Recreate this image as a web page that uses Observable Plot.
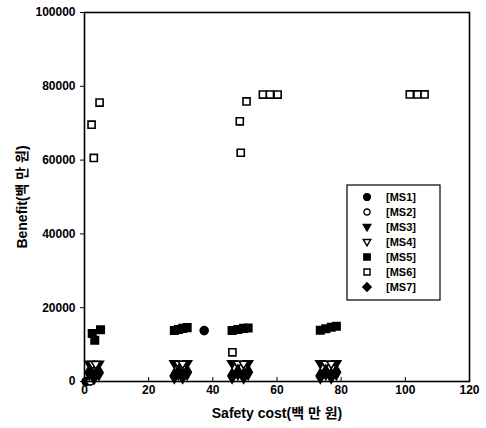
<!DOCTYPE html>
<html><head><meta charset="utf-8">
<script src="https://cdn.jsdelivr.net/npm/d3@7"></script>
<script src="https://cdn.jsdelivr.net/npm/@observablehq/plot@0.6"></script>
<style>body{margin:0;background:#fff}</style>
</head><body><div id="chart"></div>
<script>
const seriesNames = ["[MS1]","[MS2]","[MS3]","[MS4]","[MS5]","[MS6]","[MS7]"];
const xTicks = [0,20,40,60,80,100,120];
const yTicks = [0,20000,40000,60000,80000,100000];

const ms1X = [0.5, 37.3];
const ms1Y = [0, 13800];
const ms2X = [1.8];
const ms2Y = [0];
const ms3X = [1.5, 4.5, 28, 32, 46, 51, 73.5, 78.5];
const ms3Y = [4700, 4700, 4800, 4800, 4800, 4800, 4800, 4800];
const ms4X = [2.5, 3.5, 29.3, 30.6, 47.8, 49.6, 75.2, 76.9];
const ms4Y = [4600, 4600, 4700, 4700, 4700, 4700, 4700, 4700];
const ms5X = [2.4, 3.2, 5.0, 28, 29.3, 30.6, 32, 46, 47.8, 49.6, 51, 73.5, 75.2, 76.9, 78.5];
const ms5Y = [13000, 11200, 14000, 13800, 14100, 14400, 14600, 13800, 14100, 14400, 14500, 13900, 14300, 14700, 15000];
const ms6X = [2.2, 2.9, 4.7, 46.1, 48.4, 48.7, 50.5, 55.6, 57.8, 60.2, 101.4, 103.8, 106.0];
const ms6Y = [69600, 60600, 75600, 7900, 70500, 62000, 75900, 77750, 77750, 77750, 77800, 77800, 77800];
const ms7X = [1.5, 3, 4.5, 28, 29.3, 30.6, 32, 46, 47.8, 49.6, 51, 73.5, 75.2, 76.9, 78.5];
const ms7Y = [2400, 1300, 2400, 1500, 2500, 1500, 2500, 1500, 2500, 1500, 2500, 1500, 2500, 1500, 2500];

const triDown = {
  draw(ctx, size) {
    const h = Math.sqrt(size);
    ctx.moveTo(-h * 0.6, -h * 0.4);
    ctx.lineTo(h * 0.6, -h * 0.4);
    ctx.lineTo(0, h * 0.6);
    ctx.closePath();
  }
};

const styles = [
  {symbol: "circle", fill: "black", r: 4},
  {symbol: "circle", fill: "white", r: 3.6},
  {symbol: triDown, fill: "black", r: 4.2},
  {symbol: triDown, fill: "white", r: 4.2},
  {symbol: "square", fill: "black", r: 4.2},
  {symbol: "square", fill: "white", r: 4},
  {symbol: "diamond", fill: "black", r: 4.4}
];
const xs = [ms1X, ms2X, ms3X, ms4X, ms5X, ms6X, ms7X];
const ys = [ms1Y, ms2Y, ms3Y, ms4Y, ms5Y, ms6Y, ms7Y];
const tables = xs.map((arr, i) => arr.map((x, j) => ({x, y: ys[i][j], s: seriesNames[i]})));

const font = "'Liberation Sans','Noto Sans CJK KR',sans-serif";

const order = [5, 4, 0, 1, 2, 3, 6];
const plot = Plot.plot({
  width: 486, height: 428,
  marginLeft: 84, marginRight: 17, marginTop: 12, marginBottom: 47,
  style: {fontFamily: font, fontWeight: "bold", fontSize: "12px", color: "black", background: "white"},
  x: {domain: [0, 120], ticks: xTicks, label: "Safety cost(백 만 원)"},
  y: {domain: [0, 100000], ticks: yTicks, label: "Benefit(백 만 원)"},
  marks: [
    Plot.axisX({ticks: xTicks, tickSize: -4, tickPadding: 8, tickFormat: d => String(d), label: "Safety cost(백 만 원)", labelAnchor: "center", labelArrow: "none", labelOffset: 36, fontSize: 12}),
    Plot.axisY({ticks: yTicks, tickSize: 4, tickPadding: 5, tickFormat: d => String(d), label: "Benefit(백 만 원)", labelAnchor: "center", labelArrow: "none", labelOffset: 67, fontSize: 12}),
    ...order.map(i => Plot.dot(tables[i], {x: "x", y: "y", symbol: styles[i].symbol, r: styles[i].r, fill: styles[i].fill, stroke: "black", strokeWidth: 1.6})),
    Plot.frame({stroke: "black", strokeWidth: 1.6})
  ]
});
document.getElementById("chart").appendChild(plot);

const svg = d3.select(plot);
svg.selectAll("[aria-label='x-axis label'] text, [aria-label='y-axis label'] text").style("font-size", "14px");

// legend
const lg = svg.append("g").attr("font-family", font).attr("font-weight", "bold").attr("font-size", "11px").attr("text-anchor", "start");
lg.append("rect").attr("x", 347).attr("y", 185).attr("width", 93).attr("height", 115)
  .attr("fill", "white").attr("stroke", "black").attr("stroke-width", 1.2);
const symMap = {circle: d3.symbolCircle, square: d3.symbolSquare, diamond: d3.symbolDiamond2};
seriesNames.forEach((name, i) => {
  const yy = 197 + i * 15;
  const st = styles[i];
  const type = typeof st.symbol === "string" ? symMap[st.symbol] : st.symbol;
  const r = st.r * 0.85;
  lg.append("path").attr("d", d3.symbol(type, r * r * Math.PI)())
    .attr("transform", `translate(367,${yy})`)
    .attr("fill", st.fill).attr("stroke", "black").attr("stroke-width", 1.4);
  lg.append("text").attr("x", 386).attr("y", yy).attr("dy", "0.35em").text(name);
});
</script></body></html>
